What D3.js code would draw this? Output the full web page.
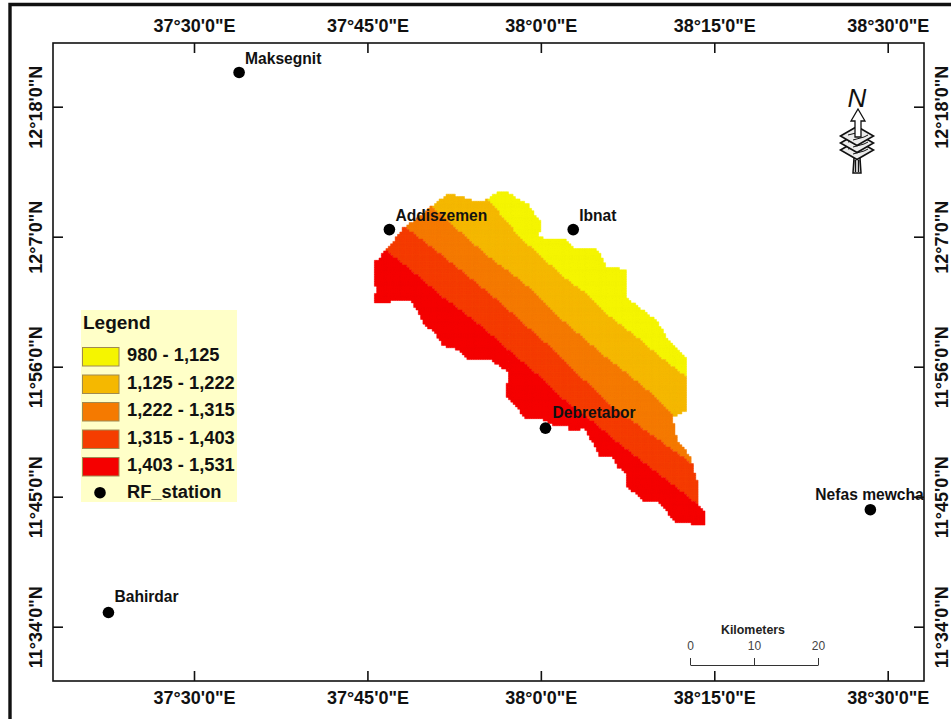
<!DOCTYPE html>
<html>
<head>
<meta charset="utf-8">
<script src="https://cdn.jsdelivr.net/npm/d3@7"></script>
<style>
  html, body {margin: 0; padding: 0; background: #fff;}
  svg {display: block;}
  text {font-family: "Liberation Sans", Arial, sans-serif; fill: #111;}
  .graticule text {font-size: 18px; font-weight: bold;}
  .station {font-size: 15.6px; font-weight: bold;}
  .legend-text {font-size: 18.3px; font-weight: bold;}
</style>
</head>
<body>
<div id="map"></div>
<script>
// all map positions are arc minutes east of 37d30' and north of 11d34'
var lonTicks = [0, 15, 30, 45, 60],
    lonLabels = ["37°30'0\"E", "37°45'0\"E", "38°0'0\"E", "38°15'0\"E", "38°30'0\"E"],
    latTicks = [0, 11, 22, 33, 44],
    latLabels = ["11°34'0\"N", "11°45'0\"N", "11°56'0\"N", "12°7'0\"N", "12°18'0\"N"];

var classLabels = ["980 - 1,125", "1,125 - 1,222", "1,222 - 1,315", "1,315 - 1,403", "1,403 - 1,531"],
    classColors = ["#f5f500", "#f5b800", "#f57a00", "#f53d00", "#f50000"];

var stationNames = ["Maksegnit", "Addiszemen", "Ibnat", "Debretabor", "Nefas mewcha", "Bahirdar"],
    stationLon = [3.9, 16.9, 32.8, 30.4, 58.5, -7.4],
    stationLat = [46.9, 33.6, 33.6, 16.8, 9.9, 1.2];

var catchment = [
    [16.5,31.9],[17.2,32.5],[18.1,33.7],[19.1,34.4],[20.2,35.3],[21.3,36.1],[22.0,36.6],[23.2,36.4],
    [24.0,36.1],[25.3,36.1],[26.3,36.8],[27.1,36.8],[27.8,36.3],[28.9,35.8],[29.5,34.8],[30.1,34.2],
    [29.8,33.0],[30.8,32.7],[31.9,32.9],[33.0,32.0],[34.9,31.9],[35.7,30.4],[36.9,30.3],[37.5,30.2],
    [37.5,27.8],[38.8,26.8],[40.1,25.8],[40.9,24.5],[42.5,22.8],[42.7,22.3],[42.5,20.6],[42.7,18.3],
    [41.4,17.7],[41.8,15.8],[42.9,14.4],[43.5,12.4],[43.6,10.3],[44.2,9.6],[44.2,8.6],[41.8,8.8],
    [41.0,9.6],[40.3,10.5],[38.8,10.7],[37.3,12.0],[37.5,12.8],[36.7,13.5],[36.2,14.4],[35.1,14.3],
    [34.7,15.2],[33.7,16.9],[33.2,16.5],[32.5,16.6],[32.5,17.1],[31.1,17.1],[30.2,17.5],[28.6,17.7],
    [28.0,18.5],[27.1,19.4],[27.1,20.6],[27.3,21.5],[25.6,22.6],[23.7,22.7],[23.0,23.4],[21.5,23.8],
    [20.8,24.9],[20.0,25.5],[19.4,26.6],[18.7,27.6],[17.4,27.6],[16.7,27.4],[15.7,27.4],[15.7,28.1],
    [15.9,28.5],[15.6,29.1],[15.7,29.6],[15.6,30.9],[16.1,31.2]
];

// class breaks, running north-west to south-east
var break1125 = [[24.5,38],[25.3,36.3],[28.2,32.9],[29.7,31.6],[31.9,29.6],[34.0,28.1],[36.0,26.2],[38.3,24.5],[40.3,22.8],[42.9,20.9],[46,18]],
    break1222 = [[18.5,38],[20.4,35.7],[23.0,33.4],[25.6,31.2],[28.2,29.3],[29.9,27.9],[31.9,25.9],[35.1,23.2],[37.1,21.7],[39.2,20.0],[41.6,17.8],[46,14]],
    break1315 = [[15.5,36],[18.1,33.9],[20.0,32.5],[23.0,30.2],[25.9,27.9],[28.2,25.9],[31.1,23.4],[33.7,20.9],[36.2,18.6],[38.6,16.9],[42.6,14.1],[47,11]],
    break1403 = [[13.5,34],[16.5,31.9],[18.7,30.2],[21.5,27.9],[24.5,25.7],[27.9,22.8],[30.2,20.9],[31.7,19.4],[34.3,17.5],[37.1,15.2],[40.1,13.0],[43.6,10.3],[47,8]];

var scaleBarTicks = [0, 10, 20];

var width = 951, height = 719;

var x = d3.scaleLinear().domain([0, 60]).range([194, 887.7]),
    y = d3.scaleLinear().domain([0, 44]).range([626.7, 106.7]);

var frame = {left: 53, right: 924, top: 43, bottom: 681};

var svg = d3.select("#map").append("svg")
    .attr("width", width)
    .attr("height", height);

// page border only shows along the top and left of the picture
svg.append("path")
    .attr("d", "M951,4.5 H10 V719")
    .attr("fill", "none").attr("stroke", "#111").attr("stroke-width", 3.4);

// raster of the catchment, one cell about a fifth of a minute
var cell = 0.2,
    bands = [break1125, break1222, break1315, break1403].map(function(b) {
        return b.concat([[60, 0], [0, 0], [0, 40]]);
    }),
    cellPaths = classColors.map(function() {return d3.path();});

d3.range(15, 45, cell).forEach(function(u) {
    d3.range(8, 37.5, cell).forEach(function(v) {
        var p = [u + cell / 2, v + cell / 2];
        if (!d3.polygonContains(catchment, p)) return;
        var k = d3.sum(bands, function(b) {return d3.polygonContains(b, p) ? 1 : 0;});
        cellPaths[k].rect(x(u), y(v + cell), x(u + cell) - x(u), y(v) - y(v + cell));
    });
});

svg.append("g").selectAll("path")
    .data(cellPaths)
  .enter().append("path")
    .attr("d", function(d) {return d.toString();})
    .attr("fill", function(d, i) {return classColors[i];})
    .attr("stroke", function(d, i) {return classColors[i];})
    .attr("stroke-width", 0.5);

// graticule
var grat = svg.append("g").attr("class", "graticule");

function lonAxis(gen, yPos) {
    grat.append("g")
        .attr("transform", "translate(0," + yPos + ")")
        .call(gen.tickValues(lonTicks).tickFormat(function(d, i) {return lonLabels[i];}).tickSizeOuter(0).tickSizeInner(10).tickPadding(1));
}
function latAxis(gen, xPos) {
    grat.append("g")
        .attr("transform", "translate(" + xPos + ",0)")
        .call(gen.tickValues(latTicks).tickFormat(function(d, i) {return latLabels[i];}).tickSizeOuter(0).tickSizeInner(10));
}

lonAxis(d3.axisTop(x), frame.top);
lonAxis(d3.axisBottom(x), frame.bottom);
latAxis(d3.axisLeft(y), frame.left);
latAxis(d3.axisRight(y), frame.right);

// ticks point inward, so they are flipped after the axis has been drawn
grat.selectAll(".domain").remove();
grat.selectAll("g").filter(function() {return this.parentNode === grat.node();}).each(function(d, i) {
    var g = d3.select(this);
    g.attr("font-family", null).attr("font-size", null);
    if (i == 0) {
        g.selectAll("line").attr("y1", 0).attr("y2", 10);
        g.selectAll("text").attr("y", -11).attr("dy", 0).attr("text-anchor", "middle");
    } else if (i == 1) {
        g.selectAll("line").attr("y1", 0).attr("y2", -10);
        g.selectAll("text").attr("y", 23).attr("dy", 0).attr("text-anchor", "middle");
    } else if (i == 2) {
        g.selectAll("line").attr("x1", 0).attr("x2", 10);
        g.selectAll("text").attr("x", null).attr("dy", 0).attr("text-anchor", "middle")
            .attr("transform", "translate(-11.5,0) rotate(-90)");
    } else {
        g.selectAll("line").attr("x1", 0).attr("x2", -10);
        g.selectAll("text").attr("x", null).attr("dy", 0).attr("text-anchor", "middle")
            .attr("transform", "translate(24,0) rotate(-90)");
    }
    g.selectAll("line").attr("stroke", "#111").attr("stroke-width", 1.6);
    g.selectAll("text").attr("fill", "#111");
});

svg.append("rect")
    .attr("x", frame.left).attr("y", frame.top)
    .attr("width", frame.right - frame.left).attr("height", frame.bottom - frame.top)
    .attr("fill", "none").attr("stroke", "#111").attr("stroke-width", 1.6);

// stations
var stationOffset = {
    "Nefas mewcha": [-55, -10],
    "Debretabor": [7, -10.5],
    "Bahirdar": [6, -10.5]
};

var stations = svg.append("g").selectAll("g")
    .data(stationNames)
  .enter().append("g")
    .attr("transform", function(d, i) {return "translate(" + x(stationLon[i]) + "," + y(stationLat[i]) + ")";});

stations.append("circle").attr("r", 5.8).attr("fill", "#000");

stations.append("text")
    .attr("class", "station")
    .attr("x", function(d) {return stationOffset[d] ? stationOffset[d][0] : 6;})
    .attr("y", function(d) {return stationOffset[d] ? stationOffset[d][1] : -8.5;})
    .text(function(d) {return d;});

// legend
var legend = svg.append("g");

legend.append("rect")
    .attr("x", 81).attr("y", 310).attr("width", 156).attr("height", 192)
    .attr("fill", "#ffffc8");

legend.append("text")
    .attr("class", "legend-text")
    .attr("x", 83).attr("y", 329)
    .style("font-size", "19px")
    .text("Legend");

var rowY = d3.scaleLinear().domain([0, 4]).range([347, 457]);

var rows = legend.selectAll(".row")
    .data(classLabels)
  .enter().append("g")
    .attr("class", "row")
    .attr("transform", function(d, i) {return "translate(0," + rowY(i) + ")";});

rows.append("rect")
    .attr("x", 82.5).attr("y", 0.5).attr("width", 36.5).attr("height", 18.5)
    .attr("fill", function(d, i) {return classColors[i];})
    .attr("stroke", "#a08a50").attr("stroke-width", 1);

rows.append("text")
    .attr("class", "legend-text")
    .attr("x", 127).attr("y", 14)
    .text(function(d) {return d;});

legend.append("circle").attr("cx", 100).attr("cy", 492.7).attr("r", 5.8).attr("fill", "#000");

legend.append("text")
    .attr("class", "legend-text")
    .attr("x", 127).attr("y", 498)
    .text("RF_station");

// scale bar
var km = d3.scaleLinear().domain([0, 20]).range([690, 818]);

var bar = svg.append("g").attr("transform", "translate(0,665)");

bar.call(d3.axisTop(km).tickValues(scaleBarTicks).tickSize(7).tickSizeOuter(0).tickPadding(8));
bar.attr("font-family", null).attr("font-size", null);
bar.selectAll("path,line").attr("stroke", "#333");
bar.selectAll("text").style("font-size", "12px").style("fill", "#444");

bar.append("text")
    .attr("x", km(10) - 1).attr("y", -31)
    .attr("text-anchor", "middle")
    .style("font-size", "12.4px").style("font-weight", "bold").style("fill", "#222")
    .text("Kilometers");

// north arrow
var north = svg.append("g").attr("transform", "translate(857,0)");

north.append("text")
    .attr("x", 0).attr("y", 107)
    .attr("text-anchor", "middle")
    .style("font-size", "26px").style("font-style", "italic")
    .text("N");

north.append("path")
    .attr("d", "M-3,158 L-4,173 L4,173 L3,158 Z M-1.5,160 V172 M1.5,160 V172")
    .attr("fill", "#fff").attr("stroke", "#111").attr("stroke-width", 1.5);

[150, 143, 136].forEach(function(c) {
    north.append("path")
        .attr("d", "M-16.5," + c + " L0," + (c - 9.5) + " L16.5," + c + " L0," + (c + 9.5) + " Z")
        .attr("fill", "#ececec").attr("stroke", "#111").attr("stroke-width", 1.6);
    north.append("path")
        .attr("d", "M-9," + (c - 1) + " L3," + (c - 4) + " M-4," + (c + 4) + " L7," + (c + 1) + " L11," + (c - 1))
        .attr("fill", "none").attr("stroke", "#111").attr("stroke-width", 1);
});

north.append("path")
    .attr("d", "M1,109 L8,121 L4,121 L4,137 L-2,137 L-2,121 L-6,121 Z")
    .attr("fill", "#fff").attr("stroke", "#111").attr("stroke-width", 1.3);
</script>
</body>
</html>
